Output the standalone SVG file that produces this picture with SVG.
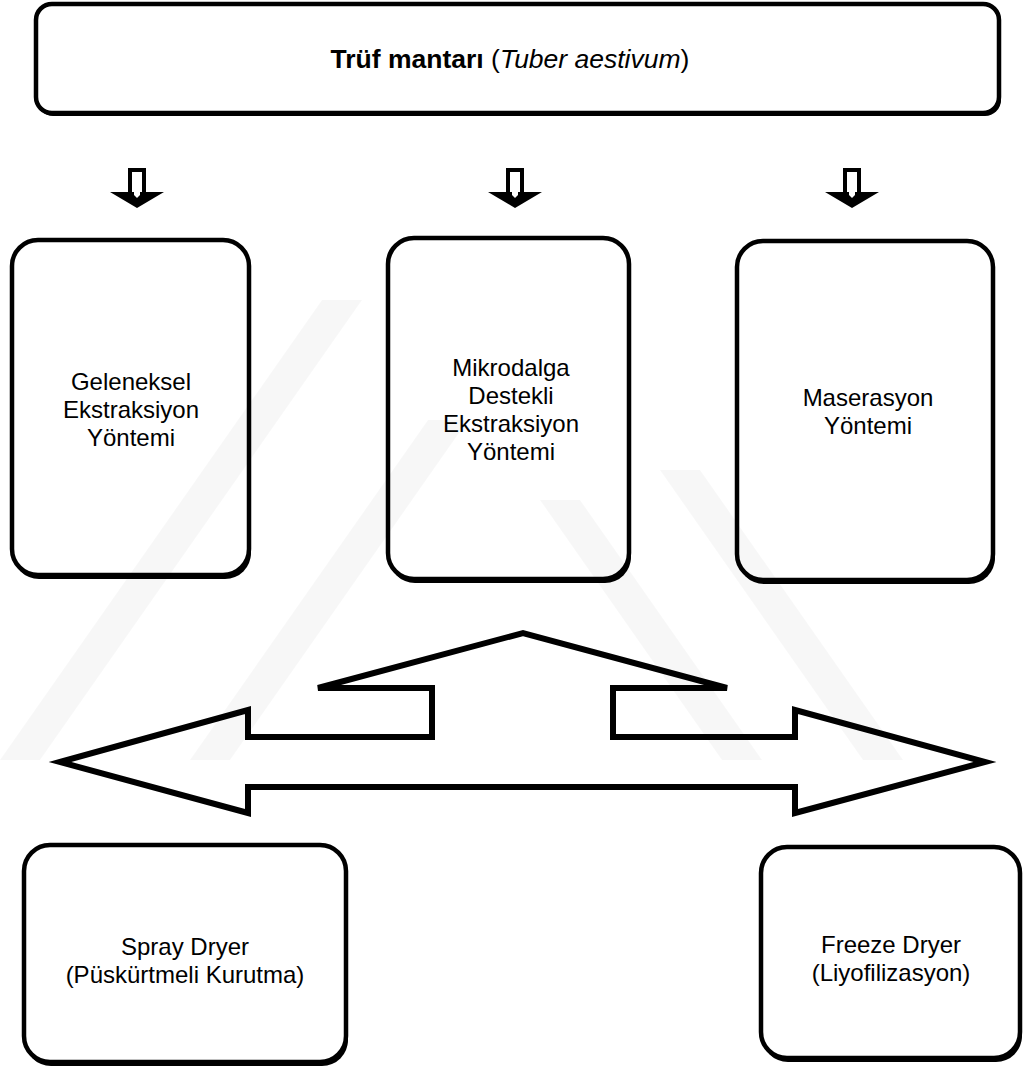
<svg xmlns="http://www.w3.org/2000/svg" width="1027" height="1070" viewBox="0 0 1027 1070">
<style>
.box{fill:#fff;stroke:#000;stroke-width:4.5}
.sh{fill:#000}
.t{font-family:"Liberation Sans",Arial,sans-serif;font-size:24px;fill:#000;text-anchor:middle}
.big{fill:#fff;stroke:#000;stroke-width:6;stroke-linejoin:miter}
.wm{fill:#000;opacity:0.03}
</style>
<defs>
<g id="down">
<rect x="-7" y="170" width="14" height="24" fill="#fff" stroke="#000" stroke-width="4"/>
<polygon points="-27,192 27,192 0,208" fill="#000"/>
<polygon points="-3,190 3,190 3,195 0,198 -3,195" fill="#fff"/>
</g>
</defs>
<rect width="1027" height="1070" fill="#fff"/>
<g id="n-truf">
<rect x="37" y="6" width="964" height="110" rx="16" class="sh"/>
<rect x="36" y="4" width="963" height="109" rx="16" class="box"/>
<text x="510" y="68" class="t" style="font-size:26.5px"><tspan font-weight="bold">Trüf mantarı</tspan> (<tspan font-style="italic">Tuber aestivum</tspan>)</text>
</g>
<g id="n-geleneksel">
<rect x="13" y="242" width="238" height="337" rx="26" class="sh"/>
<rect x="12" y="240" width="237" height="335" rx="26" class="box"/>
<text class="t"><tspan x="131" y="390">Geleneksel</tspan><tspan x="131" y="418">Ekstraksiyon</tspan><tspan x="131" y="446">Yöntemi</tspan></text>
</g>
<g id="n-mikrodalga">
<rect x="389" y="240" width="242" height="343" rx="26" class="sh"/>
<rect x="388" y="238" width="241" height="341" rx="26" class="box"/>
<text class="t"><tspan x="511" y="376">Mikrodalga</tspan><tspan x="511" y="404">Destekli</tspan><tspan x="511" y="432">Ekstraksiyon</tspan><tspan x="511" y="460">Yöntemi</tspan></text>
</g>
<g id="n-maserasyon">
<rect x="738" y="243" width="257" height="341" rx="26" class="sh"/>
<rect x="737" y="241" width="256" height="339" rx="26" class="box"/>
<text class="t"><tspan x="868" y="406">Maserasyon</tspan><tspan x="868" y="434">Yöntemi</tspan></text>
</g>
<g id="n-spray">
<rect x="25" y="847" width="323" height="219" rx="26" class="sh"/>
<rect x="24" y="845" width="322" height="217" rx="26" class="box"/>
<text class="t"><tspan x="185" y="955">Spray Dryer</tspan><tspan x="185" y="983">(Püskürtmeli Kurutma)</tspan></text>
</g>
<g id="n-freeze">
<rect x="762" y="849" width="260" height="213" rx="26" class="sh"/>
<rect x="761" y="847" width="259" height="211" rx="26" class="box"/>
<text class="t"><tspan x="891" y="953">Freeze Dryer</tspan><tspan x="891" y="981">(Liyofilizasyon)</tspan></text>
</g>
<g id="connectors">
<use href="#down" x="137" y="0"/>
<use href="#down" x="515" y="0"/>
<use href="#down" x="852" y="0"/>
<polygon class="big" points="60,762 248,710 248,737 432,737 432,688 318,688 523,633 727,688 613,688 613,737 795,737 795,710 985,762 795,813 795,787 248,787 248,813"/>
</g>
<g id="watermark">
<polygon class="wm" points="0,760 40,760 362,300 322,300"/>
<polygon class="wm" points="190,760 230,760 468,420 428,420"/>
<polygon class="wm" points="540,500 580,500 762,760 722,760"/>
<polygon class="wm" points="660,470 700,470 903,760 863,760"/>
</g>
</svg>
